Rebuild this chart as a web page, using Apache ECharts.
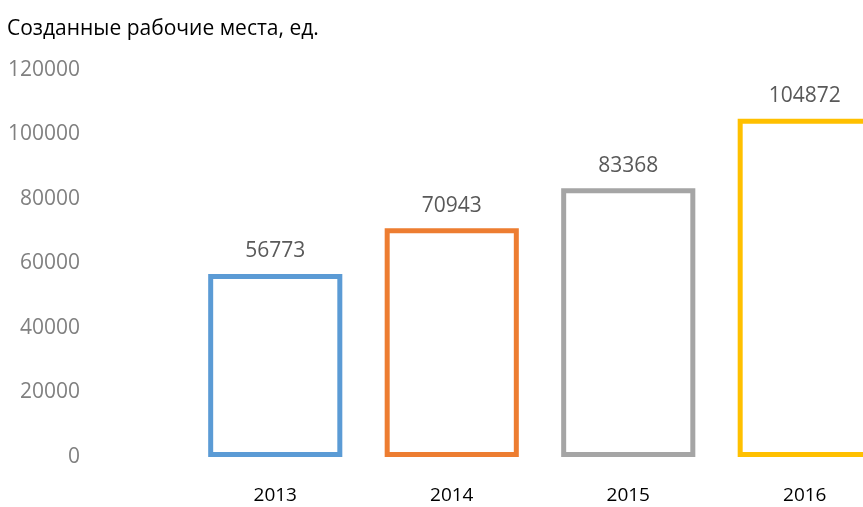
<!DOCTYPE html>
<html>
<head>
<meta charset="utf-8">
<script src="https://cdn.jsdelivr.net/npm/echarts@6/dist/echarts.min.js"></script>
<style>
  html, body { margin: 0; padding: 0; background: #fff; }
  #chart { width: 863px; height: 507px; }
</style>
</head>
<body>
<div id="chart"></div>
<script>
  // годы и значения
  const years = ['2013', '2014', '2015', '2016']
  const jobs = [56773, 70943, 83368, 104872]
  const colors = ['#5B9BD5', '#ED7D31', '#A5A5A5', '#FFC000']
  const yTicks = [0, 20000, 40000, 60000, 80000, 100000, 120000]

  const myCharts = echarts.init(document.getElementById('chart'))
  const option = {
    animation: false,
    textStyle: { fontFamily: 'Open Sans' },
    title: {
      text: 'Созданные рабочие места, ед.',
      left: 2,
      top: 14,
      textStyle: { fontSize: 21, fontWeight: 'normal', color: '#000', fontFamily: 'Open Sans' }
    },
    grid: { left: 187, top: 70, bottom: 50, width: 706, outerBoundsMode: 'none' },
    xAxis: {
      type: 'category',
      data: years,
      axisLine: { show: false },
      axisTick: { show: false },
      axisLabel: { margin: 29, fontSize: 19, color: '#000' }
    },
    yAxis: {
      type: 'value',
      min: yTicks[0],
      max: yTicks[yTicks.length - 1],
      interval: 20000,
      axisLine: { show: false },
      axisTick: { show: false },
      splitLine: { show: false },
      axisLabel: { margin: 107, fontSize: 21, color: '#808080', formatter: v => String(v) }
    },
    series: [
      {
        type: 'bar',
        barWidth: '76%',
        data: jobs.map((v, i) => ({
          value: v,
          itemStyle: { color: '#fff', borderColor: colors[i], borderWidth: 5 }
        })),
        label: {
          show: true,
          position: 'top',
          distance: 12,
          fontSize: 21,
          color: '#595959'
        }
      }
    ]
  }
  myCharts.setOption(option)
</script>
</body>
</html>
